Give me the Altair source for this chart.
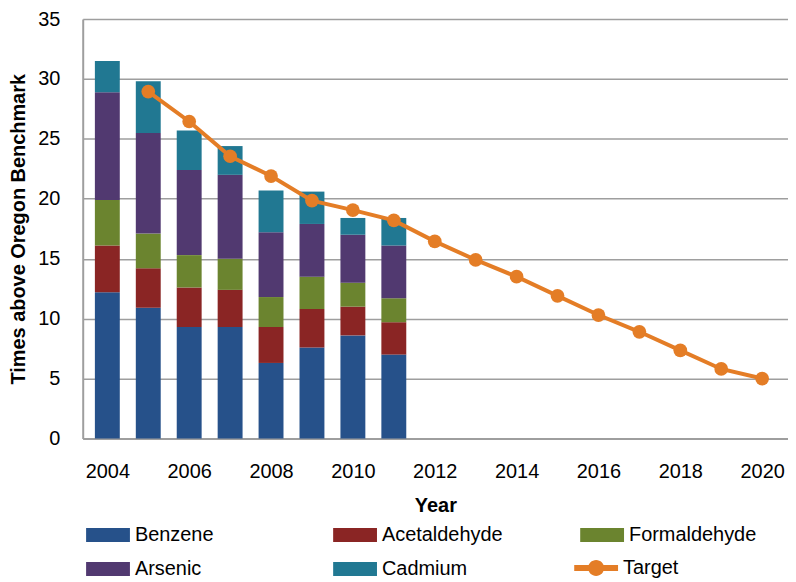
import altair as alt
import pandas as pd

years = [2004, 2005, 2006, 2007, 2008, 2009, 2010, 2011]
benzene = [12.2, 10.9, 9.3, 9.3, 6.3, 7.6, 8.6, 7.0]
acetaldehyde = [3.9, 3.3, 3.3, 3.1, 3.0, 3.2, 2.4, 2.7]
formaldehyde = [3.8, 2.9, 2.7, 2.6, 2.5, 2.7, 2.0, 2.0]
arsenic = [9.0, 8.4, 7.1, 7.0, 5.4, 4.4, 4.0, 4.4]
cadmium = [2.6, 4.3, 3.3, 2.4, 3.5, 2.7, 1.4, 2.3]

target_years = list(range(2005, 2021))
target = [28.95, 26.45, 23.55, 21.9, 19.85, 19.05, 18.2, 16.45,
          14.9, 13.5, 11.9, 10.3, 8.9, 7.35, 5.8, 5.0]

pollutants = ["Benzene", "Acetaldehyde", "Formaldehyde", "Arsenic", "Cadmium"]
pollutant_colors = ["#26518A", "#8A2524", "#6B842F", "#513970", "#217892"]
# legend fills column by column: this order gives rows
# Benzene/Acetaldehyde/Formaldehyde and Arsenic/Cadmium
legend_order = ["Benzene", "Arsenic", "Acetaldehyde", "Cadmium", "Formaldehyde"]
target_color = "#E47D26"
x_ticks = [2004, 2006, 2008, 2010, 2012, 2014, 2016, 2018, 2020]
y_ticks = [0, 5, 10, 15, 20, 25, 30, 35]

rows = []
for k, (name, vals) in enumerate(zip(pollutants, [benzene, acetaldehyde, formaldehyde, arsenic, cadmium])):
    for yr, v in zip(years, vals):
        rows.append({"Year": yr, "Value": v, "Pollutant": name, "order": k})
bars_df = pd.DataFrame(rows)
target_df = pd.DataFrame({"Year": target_years, "Value": target, "Series": ["Target"] * len(target)})

FONT = "Liberation Sans"
FS = 20

rect_path = "M-2.2,-0.7L2.2,-0.7L2.2,0.7L-2.2,0.7Z"
target_path = ("M-2.2,-0.3L2.2,-0.3L2.2,0.3L-2.2,0.3Z "
               "M-0.8,0A0.8,0.8,0,1,1,0.8,0A0.8,0.8,0,1,1,-0.8,0Z")

bar_legend = alt.Legend(
    title=None, columns=3, orient="none", legendX=15.4, legendY=508,
    symbolSize=400, symbolType=rect_path, gridAlign="all", columnPadding=71, rowPadding=14,
    labelFontSize=FS, labelFont=FONT, labelColor="#000000", labelOffset=17,
    symbolStrokeWidth=0, symbolOpacity=1,
)
target_legend = alt.Legend(
    title=None, orient="none", legendX=505.4, legendY=541,
    symbolSize=400, symbolType=target_path, symbolFillColor=target_color,
    symbolStrokeColor=target_color, symbolStrokeWidth=0, symbolOpacity=1,
    labelFontSize=FS, labelFont=FONT, labelColor="#000000", labelOffset=17,
)

x_enc = alt.X(
    "Year:Q",
    scale=alt.Scale(domain=[2003.52, 2020.51], nice=False, zero=False),
    axis=alt.Axis(values=x_ticks, format="d", grid=False, ticks=False, labelPadding=23,
                  title="Year", titleFontWeight="bold", titlePadding=14),
)
y_enc = alt.Y(
    "Value:Q", stack="zero",
    scale=alt.Scale(domain=[0, 35], nice=False),
    axis=alt.Axis(values=y_ticks, ticks=False, labelPadding=23,
                  title="Times above Oregon Benchmark", titleFontWeight="bold", titlePadding=9),
)

bars = alt.Chart(bars_df).mark_bar(size=25).encode(
    x=x_enc,
    y=y_enc,
    color=alt.Color("Pollutant:N",
                    scale=alt.Scale(domain=legend_order,
                                    range=[pollutant_colors[pollutants.index(p)] for p in legend_order]),
                    legend=bar_legend),
    order=alt.Order("order:Q"),
)

line = alt.Chart(target_df).mark_line(strokeWidth=4).encode(
    x="Year:Q", y="Value:Q",
    stroke=alt.Stroke("Series:N", scale=alt.Scale(domain=["Target"], range=[target_color]), legend=target_legend),
)
points = alt.Chart(target_df).mark_point(filled=True, size=190, opacity=1, color=target_color).encode(
    x="Year:Q", y="Value:Q",
)

chart = alt.layer(bars, line, points).properties(
    width=708, height=421,
    autosize=alt.AutoSizeParams(type="none"),
    padding={"left": 75, "top": 10, "right": 0, "bottom": 140},
).configure_view(stroke=None).configure_axis(
    labelFont=FONT, titleFont=FONT, labelFontSize=FS, titleFontSize=FS,
    labelColor="#000000", titleColor="#000000",
    gridColor="#9E9E9E", gridWidth=1.5, domainColor="#9E9E9E", domainWidth=2,
)

chart.save("out.html", embed_options={"renderer": "svg", "actions": False})
